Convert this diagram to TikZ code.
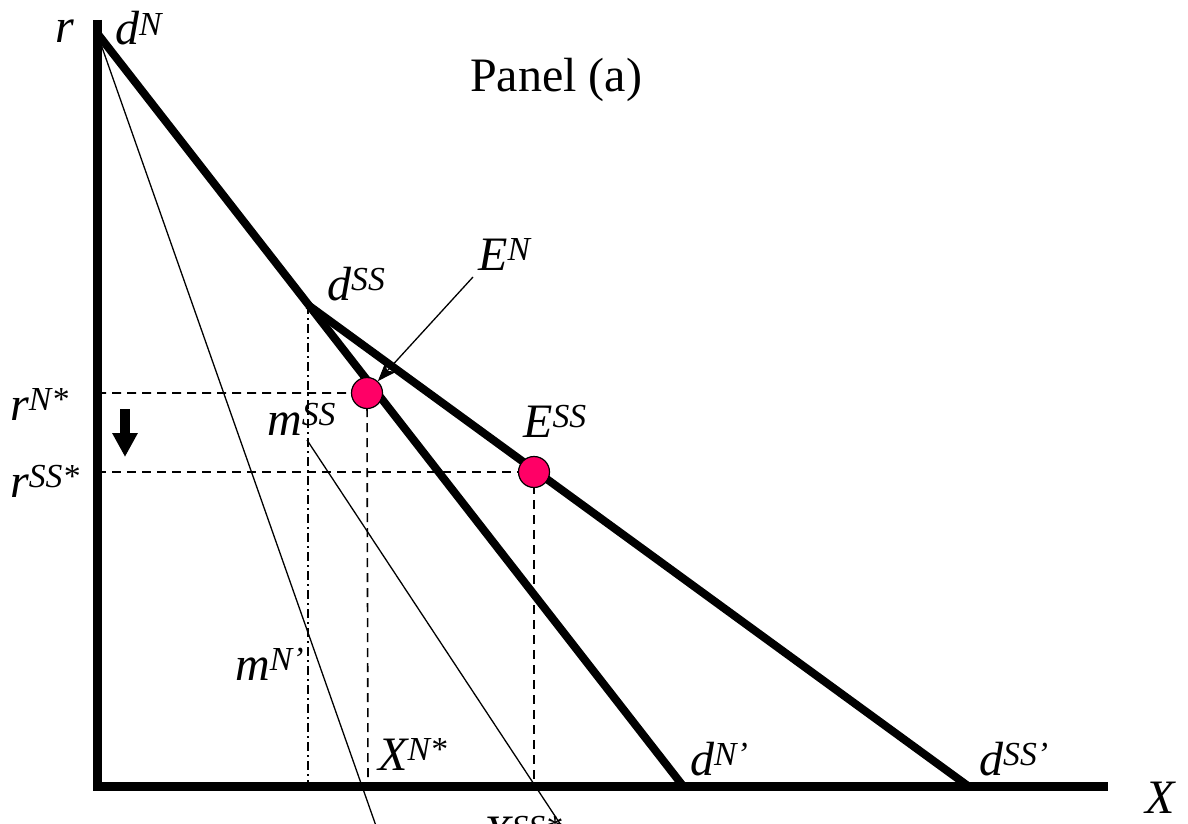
\documentclass[tikz,border=0pt]{standalone}
\usepackage{fontspec}
\setmainfont{Liberation Serif}
\usetikzlibrary{arrows.meta}
\definecolor{eqpink}{HTML}{FF0066}
\tikzset{
  panel fig/.style={
    x=1pt,
    y=-1pt,
    line cap=butt,
    line join=miter
  },
  panel axis/.style={
    line width=9pt
  },
  panel demand/.style={
    line width=8pt
  },
  panel mr/.style={
    line width=1.3pt
  },
  panel guide/.style={
    line width=1.6pt,
    dash pattern=on 9pt off 6pt
  },
  panel dashdot/.style={
    line width=1.5pt,
    dash pattern=on 9pt off 4pt on 2pt off 4pt
  },
  panel eq/.style={
    circle,
    draw,
    line width=1.2pt,
    fill=eqpink,
    minimum size=31pt,
    inner sep=0pt
  },
  panel label/.style={
    font=\fontsize{48}{52}\selectfont\itshape,
    inner sep=0pt,
    anchor=base west
  },
  panel title/.style={
    font=\fontsize{48}{52}\selectfont,
    inner sep=0pt,
    anchor=base west
  }
}

\begin{document}
\begin{tikzpicture}[panel fig]
  \useasboundingbox (0,0) rectangle (1188,824);
  \clip (0,0) rectangle (1188,824);

  % key points
  \coordinate (top) at (97,33);
  \coordinate (orig) at (97,786);
  \coordinate (kink) at (308,305);
  \coordinate (dNend) at (683,786);
  \coordinate (dSSend) at (968,786);
  \coordinate (mSSstart) at (307,440);

  % marginal revenue lines
  \draw[panel mr] (top) -- (388,860);
  \draw[panel mr] (mSSstart) -- (584,860);

  % guides
  \draw[panel dashdot] (kink) -- (kink |- orig);
  \draw[panel guide] (97,393) -- (367,393) -- (368,786);
  \draw[panel guide] (97,472) -- (534,472) -- (534,786);

  % demand curves
  \draw[panel demand] (top) -- (dNend);
  \draw[panel demand] (kink) -- (dSSend);

  % axes
  \draw[panel axis] (97,20) -- (orig) -- (1108,786);

  % equilibria
  \node[panel eq] (EN) at (367,393) {};
  \node[panel eq] (ESS) at (534,472) {};

  % labels
  \node[panel label] (rlab) at (55,43) {r};
  \node[panel label] (dNlab) at (115,45) {d\textsuperscript{N}};
  \node[panel title] (title) at (470,92) {Panel (a)};
  \node[panel label] (ENlab) at (478,270) {E\textsuperscript{N}};
  \node[panel label] (dSSlab) at (327,300) {d\textsuperscript{SS}};
  \node[panel label] (mSSlab) at (267,435) {m\textsuperscript{SS}};
  \node[panel label] (ESSlab) at (523,437) {E\textsuperscript{SS}};
  \node[panel label] (rNlab) at (10,420) {r\textsuperscript{N*}};
  \node[panel label] (rSSlab) at (10,497) {r\textsuperscript{SS*}};
  \node[panel label] (mNlab) at (235,680) {m\textsuperscript{N'}};
  \node[panel label] (XNlab) at (378,770) {X\textsuperscript{N*}};
  \node[panel label] (dNplab) at (690,775) {d\textsuperscript{N'}};
  \node[panel label] (dSSplab) at (979,775) {d\textsuperscript{SS'}};
  \node[panel label] (Xlab) at (1145,813) {X};
  \node[panel label] (XSSlab) at (482,848) {X\textsuperscript{SS*}};

  % pointer to E^N
  \coordinate (ENfoot) at (473,277);
  \draw[line width=1.3pt, -{Stealth[length=20pt,width=15pt]}] (ENfoot) -- (EN);

  % fall in r
  \draw[line width=10pt, -{Triangle[length=24pt,width=24pt]}] (125,409) -- (125,457);
\end{tikzpicture}
\end{document}
